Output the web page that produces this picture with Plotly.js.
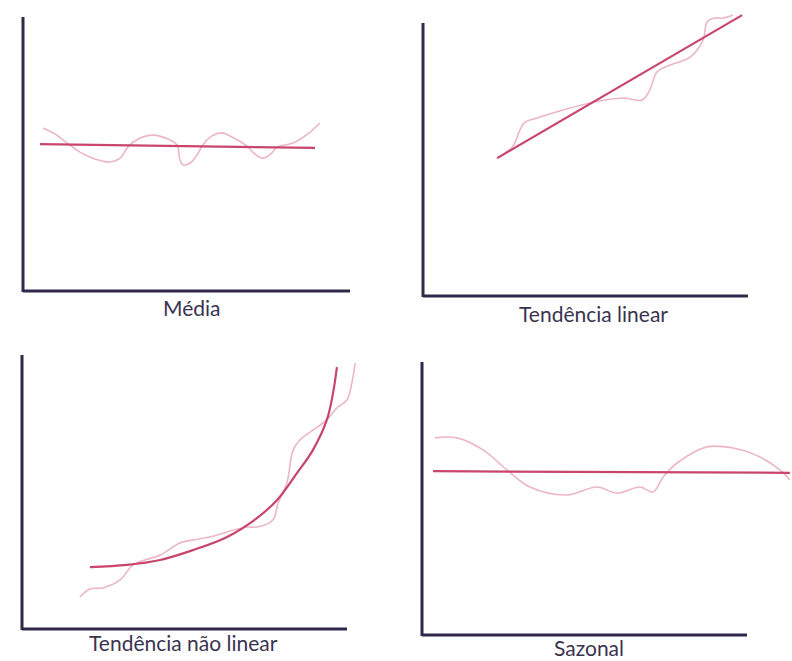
<!DOCTYPE html>
<html>
<head>
<meta charset="utf-8">
<script src="https://cdn.plot.ly/plotly-3.0.1.min.js"></script>
<style>html,body{margin:0;padding:0;background:#fff;}#chart{width:792px;height:661px;}</style>
</head>
<body>
<div id="chart"></div>
<script>
// ---- Panel labels ----
const labels = ["Média", "Tendência linear", "Tendência não linear", "Sazonal"];

// ---- Panel 1: Média ----
const mediaSeriesX = [6.1, 9.8, 13.5, 17.4, 22.0, 26.6, 29.7, 32.1, 35.2, 39.8, 44.3, 47.1, 48.0, 48.9, 51.1, 53.2, 55.0, 57.8, 60.9, 63.9, 68.5, 70.9, 73.4, 76.1, 77.7, 82.6, 87.8, 90.8];
const mediaSeriesY = [59.5, 57.3, 54.0, 50.7, 48.2, 47.1, 48.5, 52.6, 55.5, 56.9, 55.5, 53.3, 47.8, 46.0, 46.7, 49.6, 53.3, 56.6, 57.7, 56.2, 52.9, 50.0, 48.5, 50.4, 52.6, 54.0, 58.0, 61.3];
const mediaTrendX = [5.2, 89.3];
const mediaTrendY = [53.6, 52.2];

// ---- Panel 2: Tendência linear ----
const linSeriesX = [23.7, 27.7, 29.8, 31.4, 35.1, 43.1, 51.4, 61.5, 67.4, 69.8, 72.0, 76.0, 82.2, 86.2, 87.4, 89.8, 92.3, 95.4];
const linSeriesY = [50.9, 54.9, 60.8, 63.7, 65.2, 68.1, 70.7, 72.5, 71.8, 75.5, 82.1, 84.6, 87.5, 93.8, 100.4, 101.8, 101.8, 102.9];
const linTrendX = [22.8, 98.2];
const linTrendY = [50.5, 102.9];

// ---- Panel 3: Tendência não linear ----
const nlSeriesX = [17.8, 20.9, 24.9, 30.2, 34.2, 42.5, 48.6, 52.6, 57.8, 63.1, 69.2, 72.3, 77.2, 78.8, 81.5, 83.4, 85.5, 89.5, 93.8, 96.9, 100.0, 101.5, 102.5];
const nlSeriesY = [11.7, 14.6, 15.0, 17.9, 23.4, 27.0, 31.4, 32.5, 33.6, 35.4, 37.2, 37.2, 39.8, 46.0, 53.3, 65.3, 69.0, 72.6, 76.3, 80.7, 83.6, 89.8, 97.1];
const nlTrendX = [20.9, 32.3, 42.5, 52.6, 63.1, 72.3, 78.5, 84.6, 89.5, 93.8, 95.7, 96.9];
const nlTrendY = [22.6, 23.4, 25.2, 28.8, 33.6, 40.5, 47.1, 56.9, 65.3, 76.3, 86.1, 95.6];

// ---- Panel 4: Sazonal ----
const sazSeriesX = [4.0, 10.8, 18.8, 26.2, 33.2, 44.6, 53.8, 60.0, 67.1, 71.1, 74.2, 78.5, 87.7, 95.7, 104.0, 110.2, 113.2];
const sazSeriesY = [72.2, 72.2, 67.8, 60.4, 54.2, 51.3, 54.2, 52.0, 54.2, 52.4, 57.9, 63.0, 68.9, 68.5, 65.2, 60.4, 56.8];
const sazTrendX = [3.4, 113.2];
const sazTrendY = [60.0, 59.4];

// ---- Layout geometry (pixels) ----
const W = 792, H = 661;
// axis frame: [left, top, right, bottom]; plot extents: [top0, right0]
const frames = [
  {ax: [23, 17, 350, 291], ext: [8, 362]},
  {ax: [423, 23, 748, 296], ext: [2, 765]},
  {ax: [22, 355, 347, 629], ext: [345, 370]},
  {ax: [422, 362, 747, 635], ext: [352, 792]}
];
const series = [
  [mediaSeriesX, mediaSeriesY, mediaTrendX, mediaTrendY, 'linear'],
  [linSeriesX, linSeriesY, linTrendX, linTrendY, 'linear'],
  [nlSeriesX, nlSeriesY, nlTrendX, nlTrendY, 'spline'],
  [sazSeriesX, sazSeriesY, sazTrendX, sazTrendY, 'linear']
];
const labelPos = [[192, 307], [593, 313], [183, 642], [589, 647]];

const axisColor = '#33284a';
const trendColor = '#c8456c';
const waveColor = '#ecb6c4';
const fx = p => p / W, fy = p => 1 - p / H;

const data = [];
const layout = {
  width: W, height: H,
  margin: {l: 0, r: 0, t: 0, b: 0},
  paper_bgcolor: '#ffffff', plot_bgcolor: 'rgba(0,0,0,0)',
  showlegend: false,
  shapes: [], annotations: []
};

frames.forEach((f, i) => {
  const [L, T, R, B] = f.ax;
  const [T0, R0] = f.ext;
  const n = i + 1;
  const xa = 'xaxis' + (n === 1 ? '' : n), ya = 'yaxis' + (n === 1 ? '' : n);
  const xr = 'x' + (n === 1 ? '' : n), yr = 'y' + (n === 1 ? '' : n);
  layout[xa] = {domain: [fx(L), fx(R0)], range: [0, (R0 - L) / (R - L) * 100], visible: false, fixedrange: true};
  layout[ya] = {domain: [fy(B), fy(T0)], range: [0, (B - T0) / (B - T) * 100], visible: false, fixedrange: true};
  const [sx, sy, tx, ty, tshape] = series[i];
  data.push({x: sx, y: sy, xaxis: xr, yaxis: yr, type: 'scatter', mode: 'lines',
    line: {color: waveColor, width: 1.6, shape: 'spline', smoothing: 1}, hoverinfo: 'skip'});
  data.push({x: tx, y: ty, xaxis: xr, yaxis: yr, type: 'scatter', mode: 'lines',
    line: {color: trendColor, width: 2.2, shape: tshape, smoothing: 1}, hoverinfo: 'skip'});
  layout.shapes.push({type: 'line', xref: 'paper', yref: 'paper', x0: fx(L), y0: fy(T), x1: fx(L), y1: fy(B + 1),
    line: {color: axisColor, width: 3}});
  layout.shapes.push({type: 'line', xref: 'paper', yref: 'paper', x0: fx(L), y0: fy(B), x1: fx(R), y1: fy(B),
    line: {color: axisColor, width: 3}});
  layout.annotations.push({text: labels[i], xref: 'paper', yref: 'paper', x: fx(labelPos[i][0]), y: fy(labelPos[i][1]),
    xanchor: 'center', yanchor: 'middle', showarrow: false,
    font: {family: 'Lato, "Open Sans", sans-serif', size: 21, color: '#3a3350'}});
});

Plotly.newPlot('chart', data, layout, {displayModeBar: false, staticPlot: true});
</script>
</body>
</html>
